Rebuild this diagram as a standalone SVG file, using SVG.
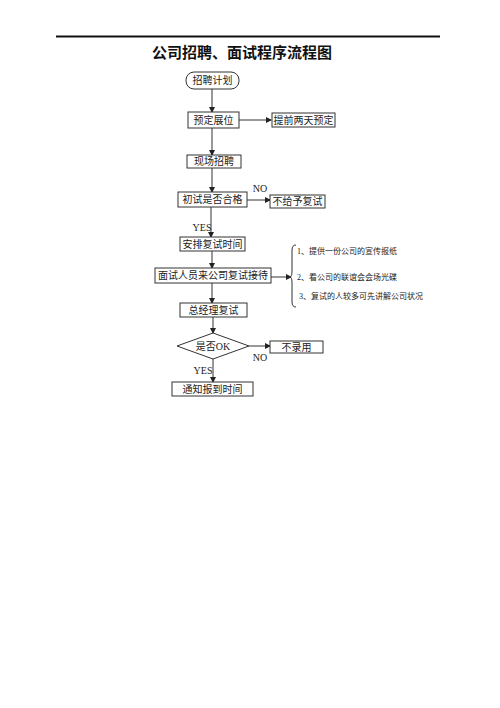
<svg xmlns="http://www.w3.org/2000/svg" width="500" height="708" viewBox="0 0 500 708">
<style>
.box{fill:#fff;stroke:#333;stroke-width:1}
.t{font-family:"Liberation Serif","Noto Sans CJK SC",serif;font-size:10px;fill:#222;text-anchor:middle;dominant-baseline:central}
.n{font-family:"Liberation Serif","Noto Sans CJK SC",serif;font-size:8px;fill:#222;dominant-baseline:central}
.lbl{font-family:"Liberation Serif","Noto Sans CJK SC",serif;font-size:10px;fill:#222;text-anchor:middle;dominant-baseline:central}
.c{stroke:#333;stroke-width:1;fill:none}
</style>
<defs>
<marker id="ah" markerWidth="6" markerHeight="6" refX="5" refY="3" orient="auto" markerUnits="userSpaceOnUse">
<path d="M0,0 L6,3 L0,6 Z" fill="#222"/>
</marker>
</defs>
<rect width="500" height="708" fill="#fff"/>
<line x1="56" y1="36.5" x2="440" y2="36.5" stroke="#111" stroke-width="2"/>
<text x="242" y="51" font-family="'Noto Sans CJK SC',sans-serif" font-size="15" font-weight="bold" text-anchor="middle" dominant-baseline="central" fill="#111">公司招聘、面试程序流程图</text>
<g id="connectors">
<line class="c" x1="212" y1="89" x2="212" y2="112" marker-end="url(#ah)"/>
<line class="c" x1="239" y1="120" x2="271" y2="120" marker-end="url(#ah)"/>
<line class="c" x1="212" y1="128" x2="212" y2="155" marker-end="url(#ah)"/>
<line class="c" x1="212" y1="168" x2="212" y2="192" marker-end="url(#ah)"/>
<line class="c" x1="247" y1="200" x2="270" y2="200" marker-end="url(#ah)"/>
<text class="lbl" x="260" y="188">NO</text>
<line class="c" x1="211" y1="207" x2="211" y2="237" marker-end="url(#ah)"/>
<text class="lbl" x="202" y="227">YES</text>
<line class="c" x1="212" y1="251" x2="212" y2="268" marker-end="url(#ah)"/>
<line class="c" x1="271" y1="277" x2="291" y2="277" marker-end="url(#ah)"/>
<line class="c" x1="212" y1="283" x2="212" y2="303" marker-end="url(#ah)"/>
<line class="c" x1="213" y1="317" x2="213" y2="333" marker-end="url(#ah)"/>
<line class="c" x1="249" y1="346" x2="270" y2="346" marker-end="url(#ah)"/>
<text class="lbl" x="260" y="357">NO</text>
<line class="c" x1="213" y1="359" x2="213" y2="382" marker-end="url(#ah)"/>
<text class="lbl" x="203" y="370">YES</text>
</g>
<g id="start"><rect class="box" x="186" y="72" width="53" height="17" rx="8" ry="8"/><text class="t" x="212.5" y="80.5">招聘计划</text></g>
<g id="booth"><rect class="box" x="188" y="112" width="51" height="16"/><text class="t" x="213.5" y="120">预定展位</text></g>
<g id="reserve"><rect class="box" x="272" y="113" width="63" height="14"/><text class="t" x="303.5" y="120">提前两天预定</text></g>
<g id="onsite"><rect class="box" x="187" y="155" width="54" height="13"/><text class="t" x="214" y="161.5">现场招聘</text></g>
<g id="screen"><rect class="box" x="178" y="192" width="69" height="15"/><text class="t" x="212.5" y="199.5">初试是否合格</text></g>
<g id="reject1"><rect class="box" x="270" y="195" width="55" height="13"/><text class="t" x="297.5" y="201.5">不给予复试</text></g>
<g id="schedule"><rect class="box" x="180" y="237" width="65" height="14"/><text class="t" x="212.5" y="244">安排复试时间</text></g>
<g id="reception"><rect class="box" x="155" y="268" width="116" height="15"/><text class="t" x="213" y="275.5">面试人员来公司复试接待</text></g>
<g id="notes">
<path class="c" d="M296,245 Q292,245 292,250 L292,272 Q292,277 289,277 Q292,277 292,282 L292,302 Q292,307 296,307"/>
<text class="n" x="297" y="251">1、提供一份公司的宣传报纸</text>
<text class="n" x="297" y="277">2、看公司的联谊会会场光碟</text>
<text class="n" x="299" y="296">3、复试的人较多可先讲解公司状况</text>
</g>
<g id="gm"><rect class="box" x="180" y="303" width="67" height="14"/><text class="t" x="213.5" y="310">总经理复试</text></g>
<g id="ok"><polygon class="box" points="213,333 249,346 213,359 177,346"/><text class="t" x="213" y="346">是否OK</text></g>
<g id="reject2"><rect class="box" x="270" y="341" width="53" height="12"/><text class="t" x="296.5" y="347">不录用</text></g>
<g id="notify"><rect class="box" x="172" y="382" width="81" height="14"/><text class="t" x="212.5" y="389">通知报到时间</text></g>
</svg>
